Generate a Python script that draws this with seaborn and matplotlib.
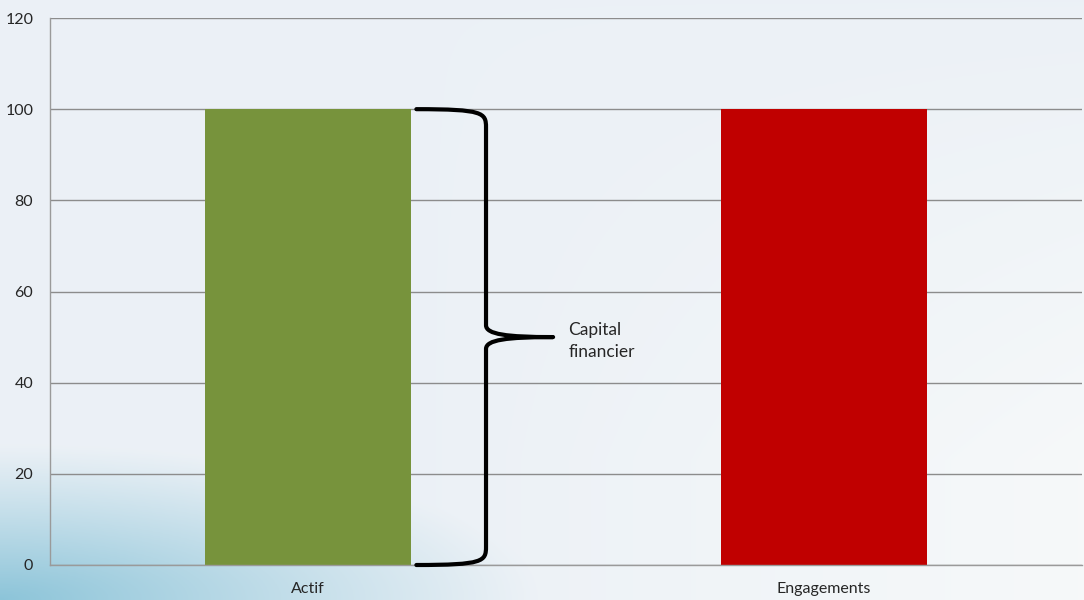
import matplotlib
matplotlib.use("Agg")
import matplotlib.pyplot as plt
import numpy as np
import pandas as pd
import seaborn as sns
from matplotlib.path import Path
from matplotlib.patches import PathPatch

# données
categories = ["Actif", "Engagements"]
valeurs = [100, 100]
couleurs = ["#77933C", "#C00000"]
annotation = "Capital\nfinancier"
y_ticks = [0, 20, 40, 60, 80, 100, 120]

sns.set_style("white")
plt.rcParams['font.family'] = ['Lato', 'DejaVu Sans']

fig = plt.figure(figsize=(10.84, 6), dpi=100)

# fond dégradé façon diapositive
bg = fig.add_axes([0, 0, 1, 1], zorder=-10)
yy, xx = np.mgrid[0:1:300j, 0:1:540j]
base = np.array([0.925, 0.945, 0.965])
clair = np.array([0.965, 0.975, 0.98])
bleu = np.array([0.55, 0.77, 0.85])
w_bleu = np.clip(1 - np.sqrt((xx / 0.5) ** 2 + ((1 - yy) / 0.26) ** 2), 0, 1) ** 1.1
w_clair = np.clip((xx - 0.4) / 0.6, 0, 1) * np.clip(yy * 1.3, 0, 1)
img = base * (1 - w_clair[..., None]) + clair * w_clair[..., None]
img = img * (1 - w_bleu[..., None]) + bleu * w_bleu[..., None]
bg.imshow(img, aspect="auto", origin="upper", extent=[0, 1, 0, 1])
bg.axis("off")

ax = fig.add_axes([50 / 1084, 35 / 600, 1032 / 1084, 547 / 600])
ax.patch.set_alpha(0)

df = pd.DataFrame({"cat": categories, "val": valeurs})
sns.barplot(data=df, x="cat", y="val", hue="cat", palette=couleurs,
            width=0.4, legend=False, ax=ax, saturation=1, zorder=2,
            linewidth=0)

ax.set_xlim(-0.5, 1.5)
ax.set_ylim(0, 120)
ax.set_yticks(y_ticks)
ax.yaxis.grid(True, color="#8C8C8C", linewidth=1)
ax.set_axisbelow(True)
ax.set_xlabel("")
ax.set_ylabel("")

for s in ["top", "right"]:
    ax.spines[s].set_visible(False)
for s in ["left", "bottom"]:
    ax.spines[s].set_color("#9A9A9A")
    ax.spines[s].set_linewidth(1)

ax.tick_params(axis="y", length=5, color="#9A9A9A", labelsize=11.5, pad=7)
ax.tick_params(axis="x", which="major", length=0, labelsize=11.5, pad=12)
ax.set_xticks([-0.5, 0.5, 1.5], minor=True)
ax.tick_params(axis="x", which="minor", length=5, color="#9A9A9A")

# accolade "Capital financier"
x0, xv, xt = 0.21, 0.345, 0.475
yh, yb, ym = valeurs[0], 0, valeurs[0] / 2
verts = [
    (x0, yh),
    (xv - 0.005, yh), (xv, yh - 0.8), (xv, yh - 4),
    (xv, ym + 2.6),
    (xv, ym + 0.6), (xv + 0.04, ym), (xt, ym),
    (xv + 0.04, ym), (xv, ym - 0.6), (xv, ym - 2.6),
    (xv, yb + 4),
    (xv, yb + 0.8), (xv - 0.005, yb), (x0, yb),
]
codes = [Path.MOVETO,
         Path.CURVE4, Path.CURVE4, Path.CURVE4,
         Path.LINETO,
         Path.CURVE4, Path.CURVE4, Path.CURVE4,
         Path.CURVE4, Path.CURVE4, Path.CURVE4,
         Path.LINETO,
         Path.CURVE4, Path.CURVE4, Path.CURVE4]
ax.add_patch(PathPatch(Path(verts, codes), fill=False, color="black",
                       linewidth=3, capstyle="round", joinstyle="round",
                       zorder=5, clip_on=False))
ax.text(0.505, ym - 0.8, annotation, fontsize=12.5, va="center", ha="left",
        linespacing=1.45)

fig.savefig("out.png", dpi=100)
